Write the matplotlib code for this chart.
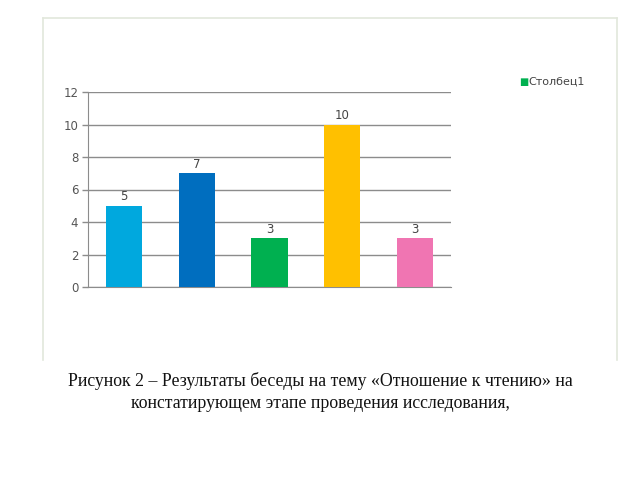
import matplotlib
matplotlib.use("Agg")
import matplotlib.pyplot as plt
from matplotlib.lines import Line2D

categories = ["1", "2", "3", "4", "5"]
values = [5, 7, 3, 10, 3]
colors = ["#00A8DE", "#006EBF", "#00B050", "#FFC000", "#F075B2"]
yticks = [0, 2, 4, 6, 8, 10, 12]
legend_label = "Столбец1"
caption = ["Рисунок 2 – Результаты беседы на тему «Отношение к чтению» на",
           "констатирующем этапе проведения исследования,"]

fig = plt.figure(figsize=(6.4, 4.8), dpi=100)
fig.patch.set_facecolor("white")

# outer frame (left, top, right)
fc = "#E2E7DC"
fig.add_artist(Line2D([43/640, 43/640], [1-360/480, 1-18/480], color=fc, lw=1.2, transform=fig.transFigure))
fig.add_artist(Line2D([617/640, 617/640], [1-360/480, 1-18/480], color=fc, lw=1.2, transform=fig.transFigure))
fig.add_artist(Line2D([43/640, 617/640], [1-18/480, 1-18/480], color=fc, lw=1.2, transform=fig.transFigure))

ax = fig.add_axes([88/640, 1-287/480, (451-88)/640, (287-92)/480])
x = list(range(len(categories)))
ax.bar(x, values, width=0.5, color=colors, zorder=3)
ax.set_xlim(-0.5, len(categories) - 0.5)
ax.set_ylim(0, 12)
ax.set_yticks(yticks)
ax.set_yticklabels([str(t) for t in yticks], fontsize=8.5, color="#555555")
ax.set_xticks([])
ax.yaxis.grid(True, color="#8C8C8C", lw=1.0, zorder=0)
ax.tick_params(axis="y", length=4, width=1, color="#8C8C8C", pad=3)
for s in ["top", "right"]:
    ax.spines[s].set_visible(False)
ax.spines["left"].set_color("#8C8C8C")
ax.spines["bottom"].set_color("#8C8C8C")
ax.set_facecolor("none")

for xi, v in zip(x, values):
    ax.text(xi, v + 0.15, str(v), ha="center", va="bottom", fontsize=8.5, color="#444444")

fig.text(519/640, 1-82/480, "■", color="#00B050", fontsize=7, va="center", ha="left")
fig.text(528/640, 1-82/480, legend_label, color="#444444", fontsize=8, va="center", ha="left")

fig.text(0.5, 1-381/480, caption[0], ha="center", va="center", fontsize=12.8,
         family="Liberation Serif", color="#111111")
fig.text(0.5, 1-403/480, caption[1], ha="center", va="center", fontsize=12.8,
         family="Liberation Serif", color="#111111")

fig.savefig("out.png", dpi=100)
